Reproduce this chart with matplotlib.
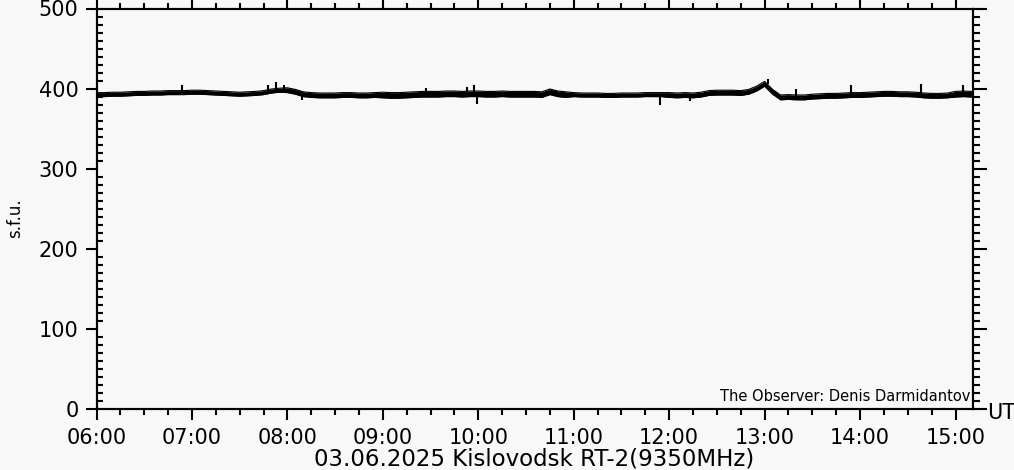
import numpy as np
import matplotlib
matplotlib.use("Agg")
import matplotlib.pyplot as plt
from matplotlib.ticker import FixedLocator, MultipleLocator

# flux level every 5 minutes, starting 06:00 (s.f.u.)
lvl_06 = [392.5, 392.5, 393, 393, 393.5, 394, 394, 394.5, 394.5, 395, 395, 395]
lvl_07 = [395.5, 395.5, 395, 394.5, 394, 393.5, 393, 393.5, 394, 395, 397, 398]
lvl_08 = [398, 396, 393, 392, 391.5, 391.5, 391.5, 392, 392, 391.5, 391.5, 392]
lvl_09 = [392, 391.5, 391.5, 392, 392.5, 393, 393, 393, 393.5, 393.5, 393, 393.5]
lvl_10 = [393.5, 393, 393, 393.5, 393, 393, 393, 393, 392.5, 396, 393.5, 392.5]
lvl_11 = [392.5, 392, 392, 392, 391.5, 391.5, 392, 392, 392, 392.5, 392.5, 392.5]
lvl_12 = [392, 391.5, 392, 391.5, 392.5, 394.5, 395, 395, 395, 394.5, 396, 400]
lvl_13 = [406, 396, 389, 389.5, 389, 389, 390, 390.5, 391, 391, 391.5, 392]
lvl_14 = [392, 392.5, 393, 393.5, 393.5, 393, 393, 392.5, 391.5, 391, 391, 391.5]
lvl_15 = [393, 393.5, 393]

# half width of the noisy band, one value per hour
band_hw = [2.5, 2.5, 3, 3.5, 3.5, 2.5, 3, 3, 3, 3.5]

# isolated spikes: minutes after 06:00, extreme value
spike_t = [54, 108, 113, 118, 129, 207, 233, 237, 239, 354, 373, 422, 440, 474, 518, 545]
spike_v = [404, 405, 408, 405, 386, 401, 402, 405, 381, 379, 385, 412, 400, 404, 406, 404]

hour_labels = ["06:00", "07:00", "08:00", "09:00", "10:00",
               "11:00", "12:00", "13:00", "14:00", "15:00"]

level = np.array(lvl_06 + lvl_07 + lvl_08 + lvl_09 + lvl_10 +
                 lvl_11 + lvl_12 + lvl_13 + lvl_14 + lvl_15)
t = np.arange(len(level)) * 5
hw = np.repeat(band_hw, [12] * 9 + [3])

bg = "#f8f8f8"
fig = plt.figure(figsize=(10.14, 4.70), dpi=100, facecolor=bg)
ax = fig.add_axes([96.5 / 1014, 1 - 409 / 470, (973 - 96.5) / 1014, (409 - 8.5) / 470])
ax.set_facecolor(bg)

ax.fill_between(t, level - hw, level + hw, color="black", lw=0)
ax.plot(t, level + hw, color="black", lw=0.8)
ax.plot(t, level - hw, color="black", lw=0.8)
idx = np.clip(np.round(np.array(spike_t) / 5).astype(int), 0, len(level) - 1)
ax.vlines(spike_t, level[idx], spike_v, color="black", lw=1.5)

ax.set_xlim(0, 551)
ax.set_ylim(0, 500)

for s in ax.spines.values():
    s.set_linewidth(1.5)

ax.xaxis.set_major_locator(FixedLocator(np.arange(len(hour_labels)) * 60))
ax.set_xticklabels(hour_labels)
ax.xaxis.set_minor_locator(MultipleLocator(15))
ax.yaxis.set_major_locator(MultipleLocator(100))
ax.yaxis.set_minor_locator(MultipleLocator(10))

ax.tick_params(axis="x", which="both", direction="out", top=True, width=1.5)
ax.tick_params(axis="x", which="major", length=8, labelsize=15, pad=6)
ax.tick_params(axis="x", which="minor", length=4)
ax.tick_params(axis="y", which="major", direction="out", length=8, width=1.5,
               labelsize=15, pad=5, right=False)
ax.tick_params(axis="y", which="minor", direction="in", length=4, width=1.5, right=False)

ax2 = ax.twinx()
ax2.set_ylim(0, 500)
ax2.yaxis.set_major_locator(MultipleLocator(100))
ax2.yaxis.set_minor_locator(MultipleLocator(10))
ax2.tick_params(axis="y", which="both", direction="out", width=1.5, labelright=False)
ax2.tick_params(axis="y", which="major", length=10)
ax2.tick_params(axis="y", which="minor", length=5)
for s in ax2.spines.values():
    s.set_linewidth(1.5)

# axis lines run a little past the right frame
ax.plot([551, 555.5], [0, 0], color="black", lw=1.5, clip_on=False)
ax.plot([551, 557.5], [500, 500], color="black", lw=1.5, clip_on=False)

ax.text(0.9975, 0.012, "The Observer: Denis Darmidantov", transform=ax.transAxes,
        ha="right", va="bottom", fontsize=10.5)

fig.text(15 / 1014, 1 - 218 / 470, "s.f.u.", rotation=90, ha="center", va="center",
         fontsize=12)
fig.text(987 / 1014, 1 - 413 / 470, "UT", ha="left", va="center", fontsize=15)
fig.text(534.5 / 1014, 1 - 459 / 470, "03.06.2025 Kislovodsk RT-2(9350MHz)",
         ha="center", va="center", fontsize=16.5)

fig.savefig("out.png", dpi=100, facecolor=bg)
